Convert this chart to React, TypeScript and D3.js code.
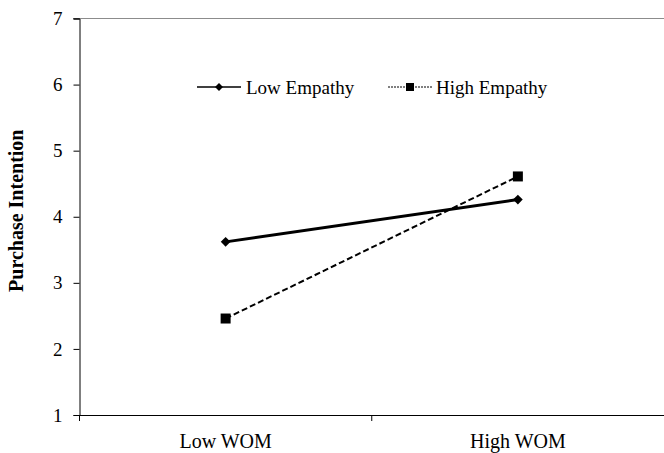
import React, { useEffect, useRef } from 'react';
import * as d3 from 'd3';

// chart data
const categories = ['Low WOM', 'High WOM'];
const lowEmpathy = [3.62, 4.26];
const highEmpathy = [2.46, 4.61];
const yTicks = [1, 2, 3, 4, 5, 6, 7];

const W = 664;
const H = 453;

export default function App() {
  const ref = useRef<SVGSVGElement>(null);

  useEffect(() => {
    const svg = d3.select(ref.current);
    svg.selectAll('*').remove();

    const font = '"Times New Roman", "Liberation Serif", serif';
    const margin = { left: 79.5, right: 0, top: 18.5, bottom: 38 };

    const x = d3.scaleBand().domain(categories).range([margin.left, W]);
    const y = d3.scaleLinear().domain([1, 7]).range([H - margin.bottom, margin.top]);

    // top grey border
    svg.append('line')
      .attr('x1', 73).attr('x2', W)
      .attr('y1', y(7)).attr('y2', y(7))
      .attr('stroke', '#8c8c8c').attr('stroke-width', 1);

    // y axis
    const yAxis = svg.append('g')
      .attr('transform', `translate(${margin.left},0)`)
      .call(d3.axisLeft(y).tickValues(yTicks).tickSize(6).tickPadding(11).tickFormat(d3.format('d')));
    yAxis.select('.domain').attr('stroke', '#000');
    yAxis.selectAll('text').attr('font-family', font).attr('font-size', 19).attr('fill', '#000');

    // x axis
    const xAxis = svg.append('g')
      .attr('transform', `translate(0,${y(1)})`)
      .call(d3.axisBottom(x).tickSize(0).tickPadding(19));
    xAxis.select('.domain').attr('stroke', '#000');
    xAxis.selectAll('text').attr('font-family', font).attr('font-size', 20).attr('fill', '#000');
    // category boundary ticks
    const bounds = [margin.left, (x('High WOM') as number)];
    svg.selectAll('.xtick').data(bounds).enter().append('line')
      .attr('x1', (d) => d).attr('x2', (d) => d)
      .attr('y1', y(1)).attr('y2', y(1) + 6)
      .attr('stroke', '#000');

    // y axis title
    svg.append('text')
      .attr('transform', `translate(23,${(y(1) + y(7)) / 2 - 6}) rotate(-90)`)
      .attr('text-anchor', 'middle')
      .attr('font-family', font).attr('font-size', 20).attr('font-weight', 'bold')
      .text('Purchase Intention');

    const cx = (d: string) => (x(d) as number) + x.bandwidth() / 2;

    // lines
    const line = d3.line<number>()
      .x((_, i) => cx(categories[i]))
      .y((d) => y(d));

    svg.append('path').datum(lowEmpathy)
      .attr('fill', 'none').attr('stroke', '#000').attr('stroke-width', 3)
      .attr('d', line);
    svg.append('path').datum(highEmpathy)
      .attr('fill', 'none').attr('stroke', '#000').attr('stroke-width', 2)
      .attr('stroke-dasharray', '6,3')
      .attr('d', line);

    const diamond = d3.symbol().type(d3.symbolDiamond2).size(60);
    const square = d3.symbol().type(d3.symbolSquare).size(100);

    svg.selectAll('.dia').data(lowEmpathy).enter().append('path')
      .attr('d', diamond)
      .attr('transform', (d, i) => `translate(${cx(categories[i])},${y(d)})`)
      .attr('fill', '#000');
    svg.selectAll('.sq').data(highEmpathy).enter().append('path')
      .attr('d', square)
      .attr('transform', (d, i) => `translate(${cx(categories[i])},${y(d)})`)
      .attr('fill', '#000');

    // legend
    const ly = 87;
    const lg = svg.append('g');
    lg.append('line').attr('x1', 197).attr('x2', 241).attr('y1', ly).attr('y2', ly)
      .attr('stroke', '#000').attr('stroke-width', 1.5);
    lg.append('path').attr('d', d3.symbol().type(d3.symbolDiamond2).size(40))
      .attr('transform', `translate(219,${ly})`).attr('fill', '#000');
    lg.append('text').attr('x', 246).attr('y', ly + 7)
      .attr('font-family', font).attr('font-size', 19).text('Low Empathy');

    lg.append('line').attr('x1', 388).attr('x2', 432).attr('y1', ly).attr('y2', ly)
      .attr('stroke', '#000').attr('stroke-width', 1).attr('stroke-dasharray', '2,1');
    lg.append('path').attr('d', d3.symbol().type(d3.symbolSquare).size(64))
      .attr('transform', `translate(410,${ly})`).attr('fill', '#000');
    lg.append('text').attr('x', 436).attr('y', ly + 7)
      .attr('font-family', font).attr('font-size', 19).text('High Empathy');
  }, []);

  return (
    <svg ref={ref} width={W} height={H}
      style={{ position: 'absolute', left: 0, top: 0, background: '#fff' }} />
  );
}
